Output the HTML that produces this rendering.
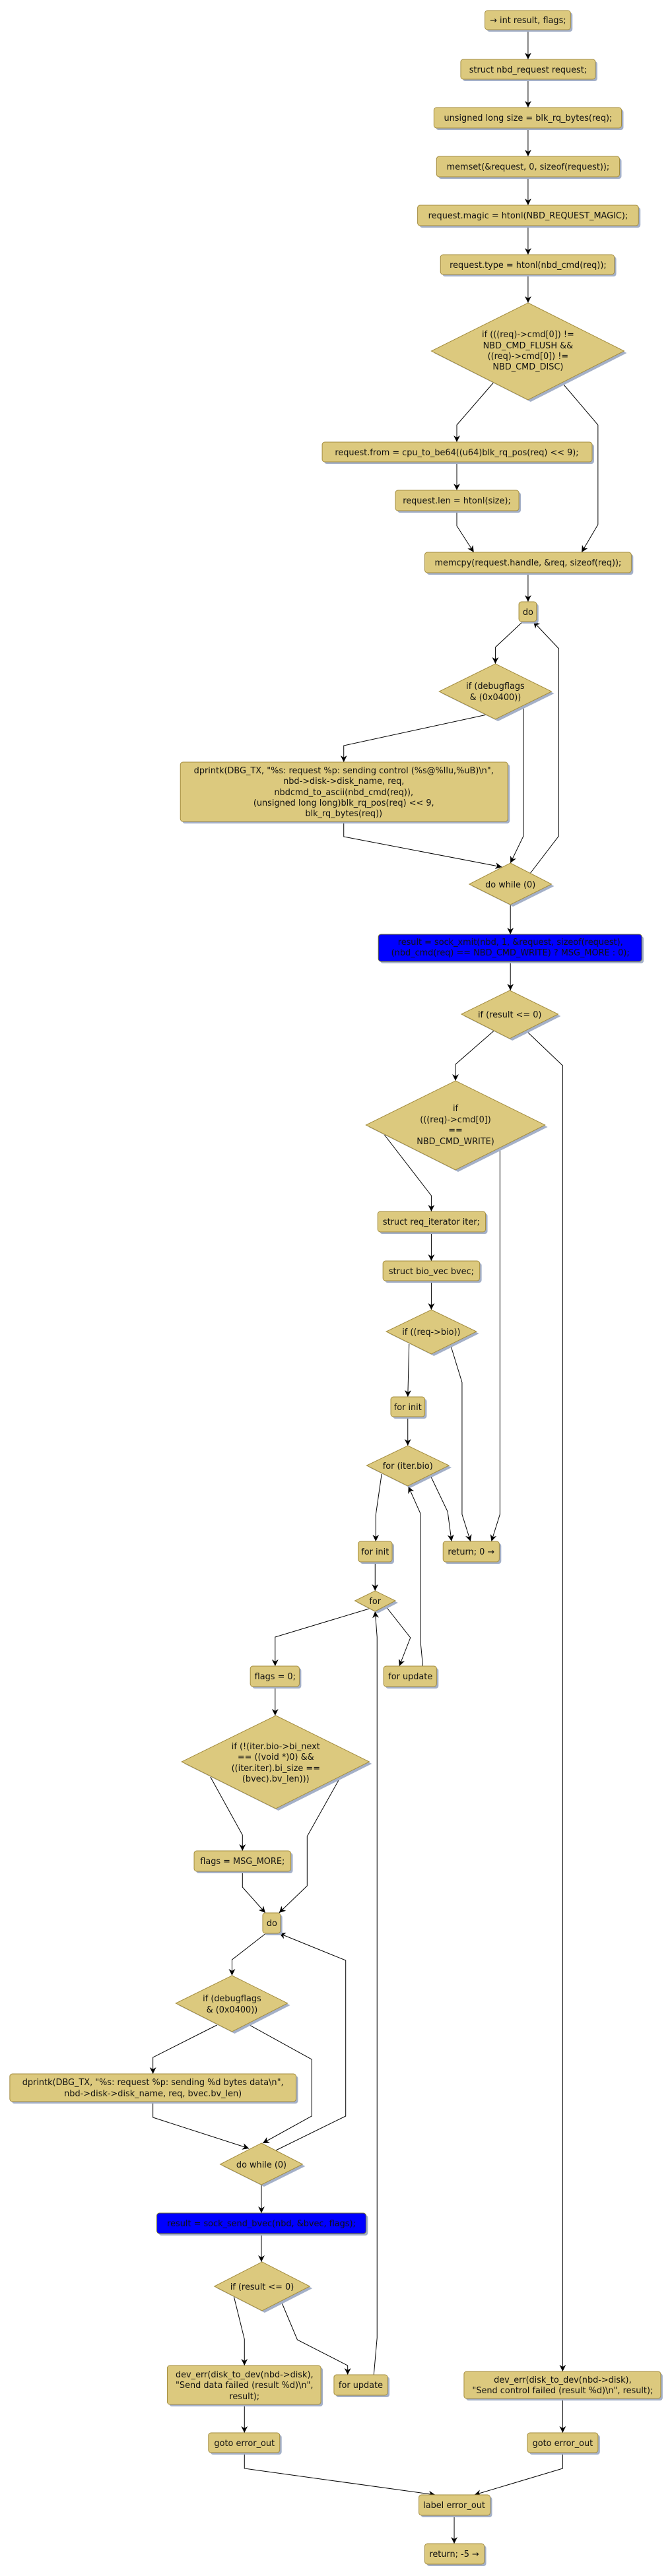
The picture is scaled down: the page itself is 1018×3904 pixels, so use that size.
<!DOCTYPE html>
<html><head><meta charset="utf-8"><style>
html,body{margin:0;padding:0;background:#fff;}
svg{display:block;}
text{font-family:"DejaVu Sans","Liberation Sans",sans-serif;font-size:13px;fill:#111;text-anchor:middle;}
.b{fill:#dcc97e;stroke:#a38c3e;stroke-width:1;}
.bl{fill:#0000ff;stroke:#6a6a2a;stroke-width:1;}
.s{fill:#a4b0c8;}
.e{fill:none;stroke:#000;stroke-width:1;marker-end:url(#a);}
</style></head><body>
<svg width="1018" height="3904" viewBox="0 0 1018 3904" xmlns="http://www.w3.org/2000/svg">
<defs><marker id="a" markerWidth="10" markerHeight="12" refX="10" refY="5" orient="auto" markerUnits="userSpaceOnUse"><path d="M0,0 L10,5 L0,10 L3,5 z" fill="#000"/></marker></defs>
<g transform="scale(0.99,1)">
<!-- edges -->
<polyline class="e" points="808,45 808,90"/>
<polyline class="e" points="808,120 808,163"/>
<polyline class="e" points="808,194 808,237"/>
<polyline class="e" points="808,268 808,311"/>
<polyline class="e" points="808,342 808,386"/>
<polyline class="e" points="808,416 808,459"/>
<polyline class="e" points="755,580 699,644 699,670"/>
<polyline class="e" points="860,580 915,644 915,795 890,837"/>
<polyline class="e" points="699,700 699,743"/>
<polyline class="e" points="699,774 699,797 725,837"/>
<polyline class="e" points="808,868 808,912"/>
<polyline class="e" points="800,942 758,981 758,1006"/>
<polyline class="e" points="745,1083 526,1130 526,1155"/>
<polyline class="e" points="801,1070 801,1267 781,1308"/>
<polyline class="e" points="526,1245 526,1268 768,1314"/>
<polyline class="e" points="811,1324 855,1267 855,983 816,942"/>
<polyline class="e" points="781,1371 781,1416"/>
<polyline class="e" points="781,1457 781,1501"/>
<polyline class="e" points="756,1562 697,1613 697,1638"/>
<polyline class="e" points="805,1562 861,1615 861,3594"/>
<polyline class="e" points="586,1717 660,1812 660,1836"/>
<polyline class="e" points="765,1739 765,2295 752,2336"/>
<polyline class="e" points="660,1867 660,1911"/>
<polyline class="e" points="660,1941 660,1985"/>
<polyline class="e" points="626,2037 624,2117"/>
<polyline class="e" points="689,2037 707,2095 707,2295 720,2336"/>
<polyline class="e" points="624,2147 624,2191"/>
<polyline class="e" points="584,2234 575,2296 575,2336"/>
<polyline class="e" points="658,2235 685,2291 691,2336"/>
<polyline class="e" points="574,2367 574,2411"/>
<polyline class="e" points="565,2438 421,2481 421,2525"/>
<polyline class="e" points="590,2434 628,2482 611,2525"/>
<polyline class="e" points="647,2525 643,2483 643,2293 625,2253"/>
<polyline class="e" points="421,2556 421,2600"/>
<polyline class="e" points="322,2693 371,2781 371,2805"/>
<polyline class="e" points="521,2693 470,2783 470,2858 427,2899"/>
<polyline class="e" points="371,2836 371,2860 406,2899"/>
<polyline class="e" points="407,2930 355,2970 355,2994"/>
<polyline class="e" points="332,3069 234,3118 234,3143"/>
<polyline class="e" points="380,3068 477,3121 477,3207 402,3248"/>
<polyline class="e" points="234,3185 234,3209 381,3256"/>
<polyline class="e" points="422,3259 529,3207 529,2971 427,2930"/>
<polyline class="e" points="400,3311 400,3354"/>
<polyline class="e" points="400,3385 400,3428"/>
<polyline class="e" points="358,3481 374,3545 374,3585"/>
<polyline class="e" points="430,3487 455,3546 532,3585 532,3599"/>
<polyline class="e" points="572,3599 577,3543 577,2481 574,2442"/>
<polyline class="e" points="374,3644 374,3687"/>
<polyline class="e" points="861,3635 861,3687"/>
<polyline class="e" points="374,3717 374,3741 666,3781"/>
<polyline class="e" points="861,3717 861,3741 726,3781"/>
<polyline class="e" points="695,3812 695,3855"/>

<!-- boxes -->
<rect class="s" x="745" y="19" width="131" height="29" rx="4"/><rect class="b" x="742" y="16" width="131" height="29" rx="4"/><text x="808" y="35">→ int result, flags;</text>
<rect class="s" x="708" y="93" width="206" height="30" rx="4"/><rect class="b" x="705" y="90" width="206" height="30" rx="4"/><text x="808" y="110">struct nbd_request request;</text>
<rect class="s" x="667" y="166" width="287" height="31" rx="4"/><rect class="b" x="664" y="163" width="287" height="31" rx="4"/><text x="808" y="183">unsigned long size = blk_rq_bytes(req);</text>
<rect class="s" x="671" y="240" width="280" height="31" rx="4"/><rect class="b" x="668" y="237" width="280" height="31" rx="4"/><text x="808" y="257">memset(&amp;request, 0, sizeof(request));</text>
<rect class="s" x="642" y="314" width="338" height="31" rx="4"/><rect class="b" x="639" y="311" width="338" height="31" rx="4"/><text x="808" y="331">request.magic = htonl(NBD_REQUEST_MAGIC);</text>
<rect class="s" x="677" y="389" width="266" height="30" rx="4"/><rect class="b" x="674" y="386" width="266" height="30" rx="4"/><text x="808" y="406">request.type = htonl(nbd_cmd(req));</text>

<polygon class="s" points="812,462 959,535 812,609 664,535"/><polygon class="b" points="808,459 955,532 808,606 660,532"/>
<text x="808" y="511">if (((req)-&gt;cmd[0]) !=</text><text x="808" y="528">NBD_CMD_FLUSH &amp;&amp;</text><text x="808" y="544">((req)-&gt;cmd[0]) !=</text><text x="808" y="560">NBD_CMD_DISC)</text>

<rect class="s" x="496" y="673" width="413" height="30" rx="4"/><rect class="b" x="493" y="670" width="413" height="30" rx="4"/><text x="699" y="690">request.from = cpu_to_be64((u64)blk_rq_pos(req) &lt;&lt; 9);</text>
<rect class="s" x="608" y="746" width="189" height="31" rx="4"/><rect class="b" x="605" y="743" width="189" height="31" rx="4"/><text x="699" y="763">request.len = htonl(size);</text>
<rect class="s" x="653" y="840" width="316" height="31" rx="4"/><rect class="b" x="650" y="837" width="316" height="31" rx="4"/><text x="808" y="857">memcpy(request.handle, &amp;req, sizeof(req));</text>
<rect class="s" x="797" y="915" width="27" height="30" rx="4"/><rect class="b" x="794" y="912" width="27" height="30" rx="4"/><text x="808" y="932">do</text>

<polygon class="s" points="762,1009 848,1051 762,1093 676,1051"/><polygon class="b" points="758,1006 844,1048 758,1090 672,1048"/>
<text x="758" y="1044">if (debugflags</text><text x="758" y="1061">&amp; (0x0400))</text>

<rect class="s" x="279" y="1158" width="501" height="90" rx="4"/><rect class="b" x="276" y="1155" width="501" height="90" rx="4"/>
<text x="526" y="1172">dprintk(DBG_TX, "%s: request %p: sending control (%s@%llu,%uB)\n",</text>
<text x="526" y="1188">nbd-&gt;disk-&gt;disk_name, req,</text>
<text x="526" y="1205">nbdcmd_to_ascii(nbd_cmd(req)),</text>
<text x="526" y="1221">(unsigned long long)blk_rq_pos(req) &lt;&lt; 9,</text>
<text x="526" y="1237">blk_rq_bytes(req))</text>

<polygon class="s" points="785,1311 848,1343 785,1374 722,1343"/><polygon class="b" points="781,1308 844,1340 781,1371 718,1340"/><text x="781" y="1345">do while (0)</text>

<rect class="s" x="582" y="1419" width="403" height="41" rx="4"/><rect class="bl" x="579" y="1416" width="403" height="41" rx="4"/>
<text x="781" y="1432">result = sock_xmit(nbd, 1, &amp;request, sizeof(request),</text>
<text x="781" y="1448">(nbd_cmd(req) == NBD_CMD_WRITE) ? MSG_MORE : 0);</text>

<polygon class="s" points="784,1504 858,1540 784,1577 710,1540"/><polygon class="b" points="780,1501 854,1537 780,1574 706,1537"/><text x="780" y="1542">if (result &lt;= 0)</text>

<polygon class="s" points="701,1641 838,1708 701,1776 564,1708"/><polygon class="b" points="697,1638 834,1705 697,1773 560,1705"/>
<text x="697" y="1684">if</text><text x="697" y="1701">(((req)-&gt;cmd[0])</text><text x="697" y="1717">==</text><text x="697" y="1734">NBD_CMD_WRITE)</text>

<rect class="s" x="581" y="1839" width="165" height="31" rx="4"/><rect class="b" x="578" y="1836" width="165" height="31" rx="4"/><text x="660" y="1856">struct req_iterator iter;</text>
<rect class="s" x="589" y="1914" width="148" height="30" rx="4"/><rect class="b" x="586" y="1911" width="148" height="30" rx="4"/><text x="660" y="1931">struct bio_vec bvec;</text>
<polygon class="s" points="664,1988 733,2021 664,2055 595,2021"/><polygon class="b" points="660,1985 729,2018 660,2052 591,2018"/><text x="660" y="2023">if ((req-&gt;bio))</text>

<rect class="s" x="601" y="2120" width="52" height="30" rx="4"/><rect class="b" x="598" y="2117" width="52" height="30" rx="4"/><text x="624" y="2137">for init</text>
<polygon class="s" points="628,2194 691,2224 628,2255 565,2224"/><polygon class="b" points="624,2191 687,2221 624,2252 561,2221"/><text x="624" y="2226">for (iter.bio)</text>

<rect class="s" x="551" y="2339" width="52" height="31" rx="4"/><rect class="b" x="548" y="2336" width="52" height="31" rx="4"/><text x="574" y="2356">for init</text>
<rect class="s" x="681" y="2339" width="86" height="31" rx="4"/><rect class="b" x="678" y="2336" width="86" height="31" rx="4"/><text x="721" y="2356">return; 0 →</text>

<polygon class="s" points="578,2414 609,2429 578,2445 547,2429"/><polygon class="b" points="574,2411 605,2426 574,2442 543,2426"/><text x="574" y="2431">for</text>

<rect class="s" x="386" y="2528" width="75" height="31" rx="4"/><rect class="b" x="383" y="2525" width="75" height="31" rx="4"/><text x="421" y="2545">flags = 0;</text>
<rect class="s" x="590" y="2528" width="81" height="31" rx="4"/><rect class="b" x="587" y="2525" width="81" height="31" rx="4"/><text x="628" y="2545">for update</text>

<polygon class="s" points="426,2603 569,2673 426,2744 282,2673"/><polygon class="b" points="422,2600 565,2670 422,2741 278,2670"/>
<text x="422" y="2651">if (!(iter.bio-&gt;bi_next</text><text x="422" y="2667">== ((void *)0) &amp;&amp;</text><text x="422" y="2684">((iter.iter).bi_size ==</text><text x="422" y="2700">(bvec).bv_len)))</text>

<rect class="s" x="300" y="2808" width="148" height="31" rx="4"/><rect class="b" x="297" y="2805" width="148" height="31" rx="4"/><text x="371" y="2825">flags = MSG_MORE;</text>
<rect class="s" x="405" y="2902" width="27" height="31" rx="4"/><rect class="b" x="402" y="2899" width="27" height="31" rx="4"/><text x="416" y="2919">do</text>

<polygon class="s" points="359,2997 444,3039 359,3082 273,3039"/><polygon class="b" points="355,2994 440,3036 355,3079 269,3036"/>
<text x="355" y="3033">if (debugflags</text><text x="355" y="3050">&amp; (0x0400))</text>

<rect class="s" x="18" y="3146" width="438" height="42" rx="4"/><rect class="b" x="15" y="3143" width="438" height="42" rx="4"/>
<text x="234" y="3160">dprintk(DBG_TX, "%s: request %p: sending %d bytes data\n",</text>
<text x="234" y="3177">nbd-&gt;disk-&gt;disk_name, req, bvec.bv_len)</text>

<polygon class="s" points="404,3251 467,3283 404,3314 341,3283"/><polygon class="b" points="400,3248 463,3280 400,3311 337,3280"/><text x="400" y="3285">do while (0)</text>

<rect class="s" x="243" y="3357" width="320" height="31" rx="4"/><rect class="bl" x="240" y="3354" width="320" height="31" rx="4"/><text x="400" y="3374">result = sock_send_bvec(nbd, &amp;bvec, flags);</text>

<polygon class="s" points="405,3431 478,3468 405,3505 332,3468"/><polygon class="b" points="401,3428 474,3465 401,3502 328,3465"/><text x="401" y="3470">if (result &lt;= 0)</text>

<rect class="s" x="259" y="3588" width="235" height="59" rx="4"/><rect class="b" x="256" y="3585" width="235" height="59" rx="4"/>
<text x="374" y="3603">dev_err(disk_to_dev(nbd-&gt;disk),</text><text x="374" y="3619">"Send data failed (result %d)\n",</text><text x="374" y="3636">result);</text>
<rect class="s" x="514" y="3602" width="82" height="31" rx="4"/><rect class="b" x="511" y="3599" width="82" height="31" rx="4"/><text x="552" y="3619">for update</text>

<rect class="s" x="713" y="3597" width="301" height="41" rx="4"/><rect class="b" x="710" y="3594" width="301" height="41" rx="4"/>
<text x="861" y="3611">dev_err(disk_to_dev(nbd-&gt;disk),</text><text x="861" y="3627">"Send control failed (result %d)\n", result);</text>

<rect class="s" x="322" y="3690" width="109" height="30" rx="4"/><rect class="b" x="319" y="3687" width="109" height="30" rx="4"/><text x="374" y="3707">goto error_out</text>
<rect class="s" x="810" y="3690" width="108" height="30" rx="4"/><rect class="b" x="807" y="3687" width="108" height="30" rx="4"/><text x="861" y="3707">goto error_out</text>
<rect class="s" x="644" y="3784" width="109" height="31" rx="4"/><rect class="b" x="641" y="3781" width="109" height="31" rx="4"/><text x="695" y="3801">label error_out</text>
<rect class="s" x="653" y="3858" width="91" height="31" rx="4"/><rect class="b" x="650" y="3855" width="91" height="31" rx="4"/><text x="695" y="3875">return; -5 →</text>
</g>
</svg>
</body></html>
